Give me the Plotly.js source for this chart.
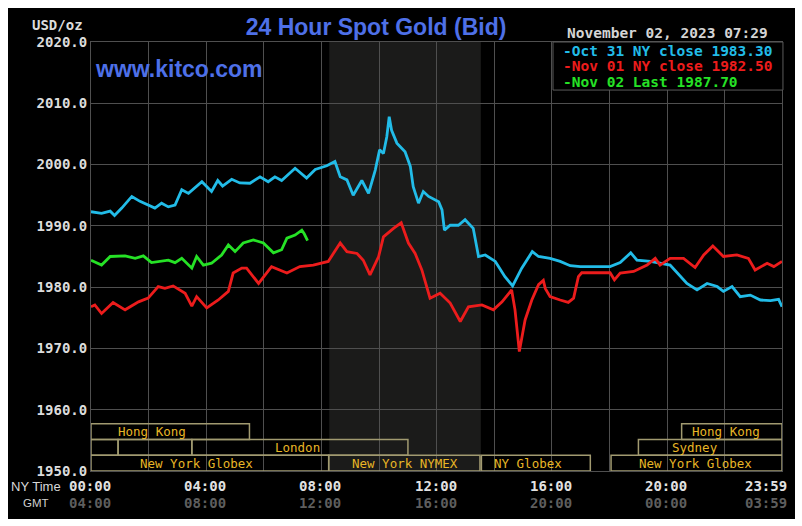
<!DOCTYPE html>
<html>
<head>
<meta charset="utf-8">
<script src="https://cdn.plot.ly/plotly-3.0.1.min.js"></script>
<style>
  html, body { margin: 0; padding: 0; background: #ffffff; }
  #chart { position: absolute; left: 8px; top: 8px; width: 787px; height: 511px; }
</style>
</head>
<body>
<div id="chart"></div>
<script>
// ---- Data (time in minutes after NY midnight, price in USD/oz) ----
const oct31Minutes = [0,22,40,49,64,85,102,133,147,161,175,189,203,231,251,264,274,293,310,331,352,369,383,397,425,449,467,491,508,519,533,546,564,578,592,601,609,616,621,626,637,654,665,671,682,692,703,724,731,736,748,765,779,796,807,821,842,862,878,897,919,932,956,977,998,1019,1081,1102,1124,1137,1165,1185,1206,1241,1262,1283,1304,1317,1335,1352,1373,1394,1415,1432,1439];
const oct31Price = [1992.3,1992.05,1992.4,1991.7,1992.9,1994.8,1994.0,1992.9,1993.7,1993.1,1993.4,1995.9,1995.3,1997.2,1995.6,1997.4,1996.5,1997.6,1997.0,1996.95,1998.0,1997.2,1998.0,1997.4,1999.4,1997.8,1999.2,1999.8,2000.5,1998.0,1997.5,1995.0,1997.4,1995.3,1999.1,2002.4,2001.8,2004.55,2007.8,2005.6,2003.5,2002.1,1999.7,1996.4,1993.7,1995.6,1994.8,1993.95,1992.6,1989.3,1990.1,1990.1,1991.0,1989.6,1985.0,1985.25,1984.2,1981.7,1980.2,1983.1,1985.8,1985.0,1984.7,1984.2,1983.5,1983.35,1983.35,1984.0,1985.6,1984.4,1984.2,1983.9,1983.6,1980.6,1979.55,1980.6,1980.1,1979.3,1980.1,1978.45,1978.7,1977.9,1977.8,1978.0,1976.8];

const nov01Minutes = [0,8,22,46,71,99,119,140,154,171,196,210,220,241,265,286,296,314,324,349,376,408,435,463,494,519,533,554,567,581,599,609,630,646,661,675,689,706,727,748,769,786,814,838,856,869,876,883,892,904,918,932,942,946,956,977,994,1005,1015,1022,1081,1090,1102,1130,1158,1175,1185,1206,1234,1258,1276,1295,1317,1345,1369,1383,1408,1422,1439];
const nov01Price = [1976.8,1977.1,1975.7,1977.5,1976.3,1977.6,1978.2,1980.1,1979.8,1980.2,1979.0,1976.9,1978.45,1976.6,1977.9,1979.3,1982.3,1983.1,1983.1,1980.6,1983.35,1982.3,1983.35,1983.6,1984.2,1987.2,1985.8,1985.5,1984.4,1982.0,1985.0,1988.2,1989.6,1990.5,1987.2,1985.5,1982.8,1978.2,1979.0,1977.4,1974.4,1976.8,1977.1,1976.3,1977.6,1979.0,1979.55,1976.3,1969.5,1974.65,1977.9,1980.4,1981.1,1979.8,1978.45,1977.9,1977.5,1978.2,1981.7,1982.35,1982.35,1981.2,1982.3,1982.55,1983.6,1984.7,1983.6,1984.7,1984.7,1983.2,1985.25,1986.7,1985.0,1985.25,1984.7,1982.8,1983.9,1983.35,1984.2];

const nov02Minutes = [0,22,40,71,92,109,126,161,175,189,210,220,234,251,272,286,300,317,338,359,380,397,408,425,439,444,451];
const nov02Price = [1984.4,1983.6,1985.0,1985.1,1984.7,1985.1,1984.0,1984.4,1984.0,1984.7,1983.1,1985.0,1983.6,1983.9,1985.25,1986.9,1985.8,1987.2,1987.7,1987.2,1985.6,1986.1,1988.0,1988.5,1989.3,1988.7,1987.6];

const legendTexts = ['-Oct 31 NY close 1983.30', '-Nov 01 NY close 1982.50', '-Nov 02 Last 1987.70'];

const yTickValues = [1950, 1960, 1970, 1980, 1990, 2000, 2010, 2020];
const yTickLabels = ['1950.0', '1960.0', '1970.0', '1980.0', '1990.0', '2000.0', '2010.0', '2020.0'];
const xTickMinutes = [0, 240, 480, 720, 960, 1200, 1439];
const nyTimeLabels = ['00:00', '04:00', '08:00', '12:00', '16:00', '20:00', '23:59'];
const gmtTimeLabels = ['04:00', '08:00', '12:00', '16:00', '20:00', '00:00', '03:59'];

// market sessions: row 0 = NY, 1 = London/Sydney, 2 = Hong Kong (hours NY time)
const sessionNames = ['Hong Kong', 'Hong Kong', '', '', 'London', 'Sydney', 'New York Globex', 'New York NYMEX', 'NY Globex', 'New York Globex'];
const sessionRow = [2, 2, 1, 1, 1, 1, 0, 0, 0, 0];
const sessionStart = [0, 20.5, 0, 0.94, 3.5, 19.0, 0, 8.25, 13.55, 18.05];
const sessionEnd = [5.5, 24, 0.94, 3.5, 11.0, 24, 8.25, 13.5, 17.33, 24];
const sessionLabelAt = [2.12, 22.05, 0, 0, 7.17, 20.97, 3.65, 10.9, 15.17, 20.97];

const nymexPitStart = 8.27, nymexPitEnd = 13.53; // shaded hours

// ---- Build ----
const cyan = '#22bce8', red = '#ec1c1c', green = '#26e226';
const mono = 'DejaVu Sans Mono, monospace';
const gridColor = '#4f4f4f';

const traces = [
  {x: oct31Minutes, y: oct31Price, mode: 'lines', line: {color: cyan, width: 2.8}, hoverinfo: 'skip'},
  {x: nov01Minutes, y: nov01Price, mode: 'lines', line: {color: red, width: 2.8}, hoverinfo: 'skip'},
  {x: nov02Minutes, y: nov02Price, mode: 'lines', line: {color: green, width: 2.8}, hoverinfo: 'skip'}
];

const rowH = 2.57;
const shapes = [
  {type: 'rect', xref: 'x', yref: 'y', x0: nymexPitStart * 60, x1: nymexPitEnd * 60, y0: 1950, y1: 2020,
   fillcolor: '#1b1b1a', line: {width: 0}, layer: 'below'},
  {type: 'rect', xref: 'paper', yref: 'paper', x0: 0.6686, x1: 1.0014, y0: 0.888, y1: 1.0,
   fillcolor: '#000000', line: {color: '#5a5a5a', width: 1}, layer: 'above'}
];
const annotations = [];
for (let i = 0; i < sessionNames.length; i++) {
  const y0 = 1950 + sessionRow[i] * rowH;
  shapes.push({type: 'rect', xref: 'x', yref: 'y', x0: sessionStart[i] * 60, x1: Math.min(sessionEnd[i] * 60, 1439),
    y0: y0, y1: y0 + rowH, line: {color: '#a19a70', width: 1.5}, fillcolor: 'rgba(0,0,0,0)', layer: 'above'});
  if (sessionNames[i]) {
    annotations.push({xref: 'x', yref: 'y', x: sessionLabelAt[i] * 60, y: y0 + rowH / 2, text: sessionNames[i],
      showarrow: false, xanchor: 'center', yanchor: 'middle', font: {family: mono, size: 12.5, color: '#e8b626'}});
  }
}
// x axis labels (two rows)
for (let i = 0; i < xTickMinutes.length; i++) {
  const last = i === xTickMinutes.length - 1;
  annotations.push({xref: 'x', yref: 'paper', x: xTickMinutes[i], y: -0.035, text: '<b>' + nyTimeLabels[i] + '</b>',
    showarrow: false, xanchor: last ? 'right' : 'center', xshift: last ? 7 : -1, yanchor: 'middle',
    font: {family: mono, size: 14, color: '#e2e2e2'}});
  annotations.push({xref: 'x', yref: 'paper', x: xTickMinutes[i], y: -0.0746, text: '<b>' + gmtTimeLabels[i] + '</b>',
    showarrow: false, xanchor: last ? 'right' : 'center', xshift: last ? 7 : -1, yanchor: 'middle',
    font: {family: mono, size: 14, color: '#5e5e5e'}});
}
annotations.push({xref: 'paper', yref: 'paper', x: -0.0405, y: -0.035, text: 'NY Time', showarrow: false,
  xanchor: 'right', yanchor: 'middle', font: {family: 'Liberation Sans, Arial, sans-serif', size: 13, color: '#d8d8d8'}});
annotations.push({xref: 'paper', yref: 'paper', x: -0.0796, y: -0.0746, text: 'GMT', showarrow: false,
  xanchor: 'center', yanchor: 'middle', font: {family: 'Liberation Sans, sans-serif', size: 11.5, color: '#d0d0d0'}});
annotations.push({xref: 'paper', yref: 'paper', x: -0.0087, y: 1.0396, text: '<b>USD/oz</b>', showarrow: false,
  xanchor: 'right', yanchor: 'middle', font: {family: mono, size: 14, color: '#dcdcdc'}});
annotations.push({xref: 'paper', yref: 'paper', x: 0.0029, y: 0.937, text: '<b>www.kitco.com</b>', showarrow: false,
  xanchor: 'left', yanchor: 'middle', font: {family: 'Liberation Sans, Arial, sans-serif', size: 23, color: '#4e70e8'}});
annotations.push({xref: 'paper', yref: 'paper', x: 0.835, y: 1.021, text: '<b>November 02, 2023 07:29</b>', showarrow: false,
  xanchor: 'center', yanchor: 'middle', font: {family: mono, size: 14.5, color: '#d4d4d4'}});
const legendColors = [cyan, red, green];
const legendY = [0.979, 0.943, 0.907];
for (let i = 0; i < legendTexts.length; i++) {
  annotations.push({xref: 'paper', yref: 'paper', x: 0.680, y: legendY[i], text: '<b>' + legendTexts[i] + '</b>', showarrow: false,
    xanchor: 'left', yanchor: 'middle', font: {family: mono, size: 14.5, color: legendColors[i]}});
}

const layout = {
  width: 787, height: 511,
  margin: {l: 83, r: 13, t: 34, b: 48, pad: 0},
  paper_bgcolor: '#000000', plot_bgcolor: '#000000',
  showlegend: false,
  title: {text: '<b>24 Hour Spot Gold (Bid)</b>', xref: 'paper', x: 0.4125, xanchor: 'center', yref: 'container', y: 0.9628, yanchor: 'middle',
    font: {family: 'Liberation Sans, Arial, sans-serif', size: 23, color: '#4e70e8'}},
  xaxis: {range: [0, 1439], tickmode: 'linear', tick0: 0, dtick: 120, showticklabels: false, ticks: '',
    showgrid: true, gridcolor: gridColor, gridwidth: 1, zeroline: false,
    showline: true, linecolor: gridColor, linewidth: 1, mirror: true, fixedrange: true},
  yaxis: {range: [1950, 2020], tickmode: 'array', tickvals: yTickValues, ticktext: yTickLabels, ticks: '',
    tickfont: {family: mono, size: 14, color: '#dcdcdc', weight: 'bold'},
    showgrid: true, gridcolor: gridColor, gridwidth: 1, zeroline: false,
    showline: true, linecolor: gridColor, linewidth: 1, mirror: true, fixedrange: true},
  shapes: shapes,
  annotations: annotations
};

Plotly.newPlot('chart', traces, layout, {staticPlot: true, displayModeBar: false});
</script>
</body>
</html>
